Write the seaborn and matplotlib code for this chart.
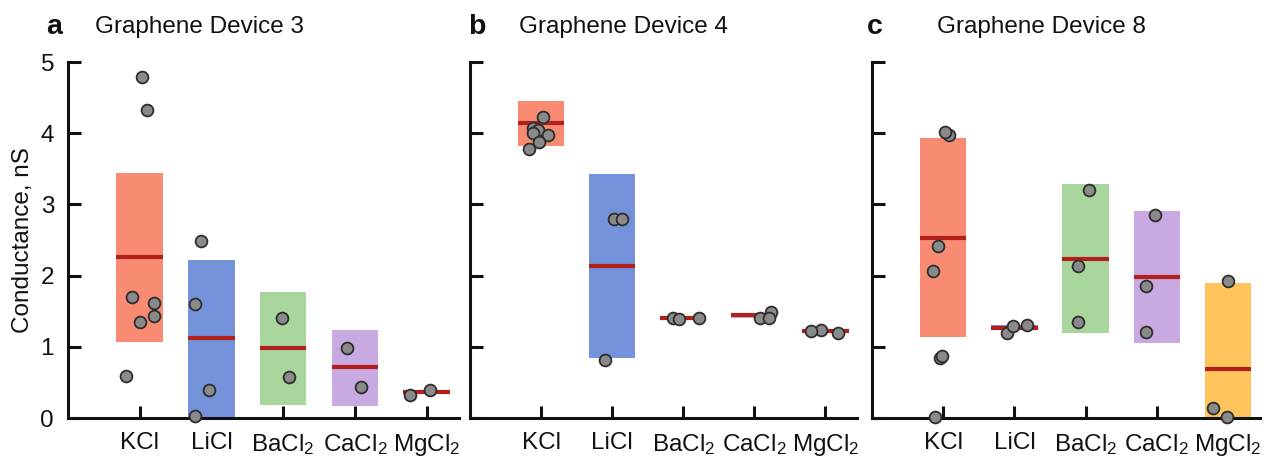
import numpy as np
import pandas as pd
import matplotlib
matplotlib.use("Agg")
import matplotlib.pyplot as plt
import seaborn as sns

# ---------------- data ----------------
salts = ["KCl", "LiCl", "BaCl$_2$", "CaCl$_2$", "MgCl$_2$"]
salt_colors = ["#F98B72", "#7392DA", "#A9D69C", "#C9A9E2", "#FFC45C"]

devices = ["Graphene Device 3", "Graphene Device 4", "Graphene Device 8"]
panel_letters = ["a", "b", "c"]

# device 3
d3_points = {
    "KCl": [4.79, 4.32, 1.70, 1.35, 1.62, 1.43, 0.59],
    "LiCl": [2.49, 1.60, 0.39, 0.03],
    "BaCl$_2$": [1.40, 0.57],
    "CaCl$_2$": [0.98, 0.43],
    "MgCl$_2$": [0.39, 0.33],
}
d3_mean = [2.26, 1.13, 0.99, 0.71, 0.37]
d3_low = [1.07, 0.00, 0.18, 0.17, 0.35]
d3_high = [3.44, 2.22, 1.77, 1.24, 0.39]

# device 4
d4_points = {
    "KCl": [4.23, 4.07, 4.05, 4.00, 3.98, 3.87, 3.78],
    "LiCl": [2.79, 2.79, 0.81],
    "BaCl$_2$": [1.40, 1.39, 1.41],
    "CaCl$_2$": [1.49, 1.40, 1.41],
    "MgCl$_2$": [1.20, 1.24, 1.22],
}
d4_mean = [4.14, 2.13, 1.40, 1.45, 1.22]
d4_low = [3.82, 0.84, 1.39, 1.41, 1.21]
d4_high = [4.45, 3.43, 1.42, 1.48, 1.24]

# device 8
d8_points = {
    "KCl": [3.97, 4.02, 2.42, 2.07, 0.84, 0.87, 0.02],
    "LiCl": [1.20, 1.29, 1.31],
    "BaCl$_2$": [3.20, 2.14, 1.35],
    "CaCl$_2$": [2.85, 1.86, 1.21],
    "MgCl$_2$": [1.92, 0.14, 0.02],
}
d8_mean = [2.53, 1.27, 2.23, 1.98, 0.69]
d8_low = [1.14, 1.24, 1.19, 1.05, 0.00]
d8_high = [3.93, 1.31, 3.28, 2.91, 1.90]

y_ticks = [0, 1, 2, 3, 4, 5]

# ---------------- style ----------------
sns.set_theme(style="ticks")
plt.rcParams["font.family"] = ["Liberation Sans", "DejaVu Sans"]
plt.rcParams["mathtext.default"] = "regular"
FS = 17.5

fig = plt.figure(figsize=(12.68, 4.57), dpi=100)
positions = [
    [0.0536, 0.0853, 0.3083, 0.779],
    [0.3707, 0.0853, 0.3055, 0.779],
    [0.6877, 0.0853, 0.3060, 0.779],
]
title_x = [(0.036, 0.075), (0.369, 0.409), (0.684, 0.739)]

all_points = [d3_points, d4_points, d8_points]
all_mean = [d3_mean, d4_mean, d8_mean]
all_low = [d3_low, d4_low, d8_low]
all_high = [d3_high, d4_high, d8_high]

np.random.seed(3)
bar_w = 0.65
for i in range(3):
    ax = fig.add_axes(positions[i])
    pts = all_points[i]
    df = pd.DataFrame(
        [(s, v) for s in salts for v in pts[s]], columns=["salt", "G"]
    )
    sns.stripplot(
        data=df, x="salt", y="G", order=salts, ax=ax, jitter=0.25,
        color="#8a8a8a", edgecolor="#2e2e2e", linewidth=1.3, size=8.5,
        zorder=4, clip_on=False,
    )
    xs = np.arange(len(salts))
    ax.bar(xs, np.array(all_high[i]) - np.array(all_low[i]),
           bottom=all_low[i], width=bar_w, color=salt_colors,
           linewidth=0, zorder=1)
    ax.hlines(all_mean[i], xs - bar_w / 2, xs + bar_w / 2,
              color="#B3201B", linewidth=3, zorder=2)

    ax.set_xlim(-1.0, 4.45)
    ax.set_ylim(0, 5)
    ax.set_yticks(y_ticks)
    ax.set_xticks(xs)
    ax.set_xticklabels(salts, fontsize=FS)
    for s in ["top", "right"]:
        ax.spines[s].set_visible(False)
    for s in ["left", "bottom"]:
        ax.spines[s].set_linewidth(2.2)
        ax.spines[s].set_color("#111111")
    ax.tick_params(axis="both", direction="in", length=9, width=2.2,
                   color="#111111", labelsize=FS, labelcolor="#111111",
                   bottom=True, left=True)
    ax.tick_params(axis="x", pad=10)
    ax.tick_params(axis="y", pad=10)
    ax.set_xlabel("")
    if i == 0:
        ax.set_ylabel("Conductance, nS", fontsize=FS, labelpad=5,
                      color="#111111")
    else:
        ax.set_ylabel("")
        ax.set_yticklabels([])

    fig.text(title_x[i][0], 0.94, panel_letters[i], fontsize=FS + 3,
             fontweight="bold", va="center", ha="left", color="#111111")
    fig.text(title_x[i][1], 0.94, devices[i], fontsize=FS, va="center",
             ha="left", color="#111111")

fig.savefig("out.png", dpi=100)
